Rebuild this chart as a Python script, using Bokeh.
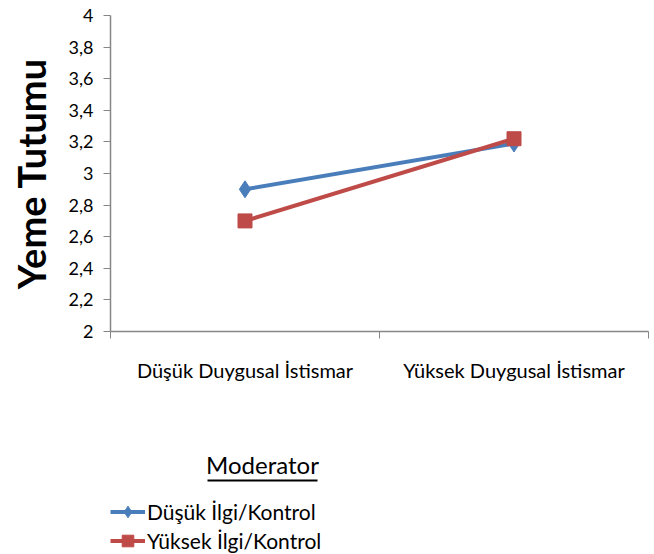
from bokeh.plotting import figure
from bokeh.layouts import column
from bokeh.models import FixedTicker, Legend, LegendItem, Label, BoxAnnotation, Range1d
from bokeh.embed import file_html
from bokeh.resources import INLINE

categories = ["Düşük Duygusal İstismar", "Yüksek Duygusal İstismar"]
series_names = ["Düşük İlgi/Kontrol", "Yüksek İlgi/Kontrol"]
low_values = [2.90, 3.19]
high_values = [2.70, 3.22]
y_ticks = [2.0, 2.2, 2.4, 2.6, 2.8, 3.0, 3.2, 3.4, 3.6, 3.8, 4.0]
y_tick_labels = ["2", "2,2", "2,4", "2,6", "2,8", "3", "3,2", "3,4", "3,6", "3,8", "4"]
y_label = "Yeme Tutumu"
legend_title = "Moderator"

BLUE = "#4A7EBB"
RED = "#BE4B48"
AXIS = "#868686"
FONT = "Lato"

n = len(categories)
x_pos = list(range(n))
boundaries = [i - 0.5 for i in range(n + 1)]

p = figure(width=654, height=440, output_backend="svg", toolbar_location=None,
           x_range=Range1d(-0.5, n - 0.5), y_range=Range1d(y_ticks[0], y_ticks[-1]),
           min_border_left=110, min_border_right=6, min_border_top=15, min_border_bottom=109)
p.outline_line_color = None
p.xgrid.visible = False
p.ygrid.visible = False

# x axis
p.xaxis.ticker = FixedTicker(ticks=x_pos, minor_ticks=boundaries)
p.xaxis.major_label_overrides = {i: c for i, c in zip(x_pos, categories)}
p.xaxis.major_tick_in = 0
p.xaxis.major_tick_out = 0
p.xaxis.minor_tick_in = 0
p.xaxis.minor_tick_out = 7
p.xaxis.minor_tick_line_color = AXIS
p.xaxis.axis_line_color = AXIS
p.xaxis.axis_line_width = 1.5
p.xaxis.major_label_standoff = 19
p.xaxis.major_label_text_font = FONT
p.xaxis.major_label_text_font_size = "20px"
p.xaxis.major_label_text_color = "#000000"

# y axis
p.yaxis.ticker = FixedTicker(ticks=y_ticks)
p.yaxis.major_label_overrides = {t: l for t, l in zip(y_ticks, y_tick_labels)}
p.yaxis.major_tick_in = 0
p.yaxis.major_tick_out = 7
p.yaxis.major_tick_line_color = AXIS
p.yaxis.minor_tick_line_color = None
p.yaxis.axis_line_color = AXIS
p.yaxis.axis_line_width = 1.5
p.yaxis.major_label_standoff = 10
p.yaxis.major_label_text_font = FONT
p.yaxis.major_label_text_font_size = "18px"
p.yaxis.major_label_text_color = "#000000"
p.yaxis.axis_label = y_label
p.yaxis.axis_label_text_font = FONT
p.yaxis.axis_label_text_font_style = "bold"
p.yaxis.axis_label_text_font_size = "38px"
p.yaxis.axis_label_text_color = "#000000"
p.yaxis.axis_label_standoff = 12

# series
p.line(x_pos, low_values, line_color=BLUE, line_width=4)
p.scatter(x_pos, low_values, marker="diamond", size=17, color=BLUE)
p.line(x_pos, high_values, line_color=RED, line_width=4)
p.scatter(x_pos, high_values, marker="square", size=14, color=RED)

# legend panel (its frame is aligned with the main frame: x 110..648)
lg = figure(width=654, height=114, output_backend="svg", toolbar_location=None,
            x_range=Range1d(110, 648), y_range=Range1d(0, 114),
            x_axis_type=None, y_axis_type=None,
            min_border_left=0, min_border_right=0, min_border_top=0, min_border_bottom=0)
lg.outline_line_color = None
lg.xgrid.visible = False
lg.ygrid.visible = False

# same series drawn here only as legend sources (outside this panel's visible range)
l1 = lg.line(x_pos, low_values, line_color=BLUE, line_width=4)
m1 = lg.scatter(x_pos, low_values, marker="diamond", color=BLUE)
l2 = lg.line(x_pos, high_values, line_color=RED, line_width=4)
m2 = lg.scatter(x_pos, high_values, marker="square", color=RED)

legend = Legend(items=[LegendItem(label=series_names[0], renderers=[l1, m1]),
                       LegendItem(label=series_names[1], renderers=[l2, m2])],
                location=(0, -1), orientation="vertical",
                glyph_width=35, glyph_height=29, label_height=29, label_standoff=2,
                spacing=0, padding=0, margin=0, border_line_color=None,
                background_fill_alpha=0, label_text_font=FONT,
                label_text_font_size="21px", label_text_color="#000000")
lg.add_layout(legend)

title = Label(x=262, y=90, text=legend_title,
              text_align="center", text_baseline="middle", text_font=FONT,
              text_font_size="24px", text_color="#000000")
lg.add_layout(title)
underline = BoxAnnotation(left=207, right=317, top=75, bottom=73,
                          fill_color="#000000", fill_alpha=1, line_color=None)
lg.add_layout(underline)

open("out.html", "w").write(file_html(column(p, lg, spacing=0), INLINE))
